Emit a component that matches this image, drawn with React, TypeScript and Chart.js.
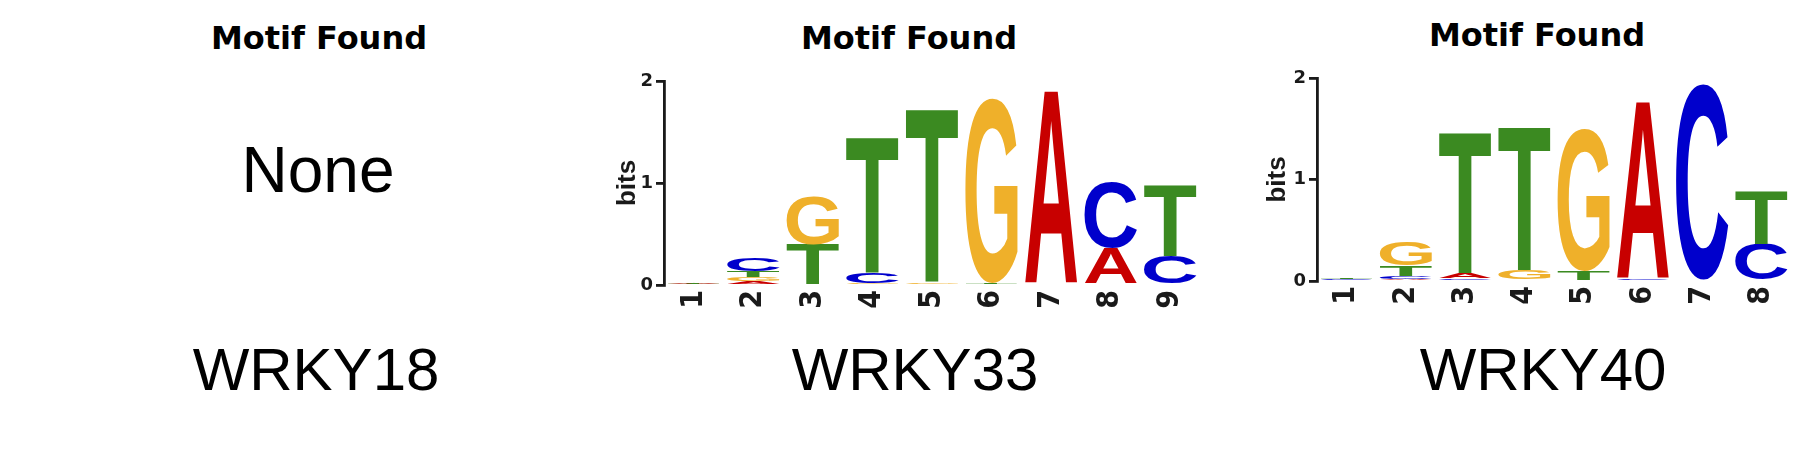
import React, { useEffect, useRef } from "react";
import { Chart, registerables, ChartConfiguration, Plugin } from "chart.js";

Chart.register(...registerables);

const INK = "#1a1a1a";
const FONT = '"Liberation Sans", Arial, Helvetica, sans-serif';
const NARROW_FONT = '"Liberation Sans Narrow", "DejaVu Sans Condensed", sans-serif';
const TICK_FONT = '"DejaVu Sans", Verdana, sans-serif';
const TITLE_FONT = '"DejaVu Sans", Verdana, sans-serif';
Chart.defaults.font.family = FONT;

// panel captions
const panelTitle = "Motif Found";
const geneNames = ["WRKY18", "WRKY33", "WRKY40"];
const noMotifText = "None";
const bitTicks = [0, 1, 2];

// WRKY33 logo, information (bits) per nucleotide and position
const positions33 = ["1", "2", "3", "4", "5", "6", "7", "8", "9"];
const wrky33A = [0.01, 0.04, 0.0, 0.01, 0.0, 0.0, 1.9, 0.36, 0.0];
const wrky33C = [0.0, 0.13, 0.0, 0.1, 0.0, 0.0, 0.0, 0.64, 0.28];
const wrky33G = [0.006, 0.04, 0.48, 0.01, 0.03, 1.81, 0.0, 0.0, 0.0];
const wrky33T = [0.006, 0.06, 0.4, 1.33, 1.7, 0.02, 0.0, 0.0, 0.7];

// WRKY40 logo
const positions40 = ["1", "2", "3", "4", "5", "6", "7", "8"];
const wrky40A = [0.01, 0.02, 0.05, 0.0, 0.0, 1.74, 0.0, 0.0];
const wrky40C = [0.01, 0.03, 0.03, 0.0, 0.0, 0.02, 1.94, 0.36];
const wrky40G = [0.0, 0.23, 0.0, 0.11, 1.4, 0.0, 0.0, 0.0];
const wrky40T = [0.015, 0.1, 1.38, 1.41, 0.1, 0.0, 0.0, 0.52];

const LETTER_COLORS: Record<string, string> = {
  A: "#c80000",
  C: "#0000cc",
  G: "#efb02a",
  T: "#3b8a21",
};

// one stacked dataset per rank, smallest letter at the bottom of each column
function buildStacks(a: number[], c: number[], g: number[], t: number[]) {
  const cols = a.map((_, i) =>
    [
      { letter: "A", value: a[i] },
      { letter: "C", value: c[i] },
      { letter: "G", value: g[i] },
      { letter: "T", value: t[i] },
    ].sort((p, q) => p.value - q.value)
  );
  return [0, 1, 2, 3].map((rank) => ({
    label: "rank" + rank,
    data: cols.map((col) => col[rank].value),
    letters: cols.map((col) => col[rank].letter),
    backgroundColor: "rgba(0,0,0,0)",
    borderWidth: 0,
    barPercentage: 0.88,
    categoryPercentage: 1,
  }));
}

// paints each bar as a stretched nucleotide glyph
const letterPlugin: Plugin<"bar"> = {
  id: "logoLetters",
  afterDatasetsDraw(chart) {
    const ctx = chart.ctx;
    chart.data.datasets.forEach((ds: any, di) => {
      const meta = chart.getDatasetMeta(di);
      meta.data.forEach((el: any, i) => {
        const { x, y, base, width } = el.getProps(["x", "y", "base", "width"], true);
        const h = base - y;
        if (!(h > 0.15)) return;
        const letter = ds.letters[i];
        ctx.save();
        ctx.font = "bold 200px " + FONT;
        ctx.textAlign = "left";
        ctx.textBaseline = "alphabetic";
        const m = ctx.measureText(letter);
        const gw = m.actualBoundingBoxLeft + m.actualBoundingBoxRight;
        const gh = m.actualBoundingBoxAscent + m.actualBoundingBoxDescent;
        ctx.translate(x - width / 2, y);
        ctx.scale(width / gw, h / gh);
        ctx.fillStyle = LETTER_COLORS[letter];
        ctx.fillText(letter, m.actualBoundingBoxLeft, m.actualBoundingBoxAscent);
        ctx.restore();
      });
    });
  },
};

interface LogoProps {
  labels: string[];
  a: number[];
  c: number[];
  g: number[];
  t: number[];
  left: number;
  top: number;
  width: number;
  height: number;
  yAxisWidth: number;
  xAxisHeight: number;
  padTop: number;
  padRight: number;
}

const SequenceLogo: React.FC<LogoProps> = (p) => {
  const canvasRef = useRef<HTMLCanvasElement>(null);

  useEffect(() => {
    if (!canvasRef.current) return;
    const config = {
      type: "bar",
      data: {
        labels: p.labels,
        datasets: buildStacks(p.a, p.c, p.g, p.t),
      },
      options: {
        responsive: false,
        animation: false,
        events: [],
        layout: { padding: { top: p.padTop, right: p.padRight, left: 0, bottom: 0 } },
        plugins: {
          legend: { display: false },
          tooltip: { enabled: false },
          title: { display: false },
        },
        scales: {
          x: {
            stacked: true,
            grid: { display: false, drawTicks: false },
            border: { display: false },
            ticks: {
              minRotation: 90,
              maxRotation: 90,
              autoSkip: false,
              padding: 5,
              color: INK,
              font: { family: NARROW_FONT, size: 30, weight: "bold" },
            },
            afterFit: (s: any) => {
              s.height = p.xAxisHeight;
            },
          },
          y: {
            stacked: true,
            min: 0,
            max: 2,
            afterBuildTicks: (s: any) => {
              s.ticks = bitTicks.map((v) => ({ value: v }));
            },
            grid: {
              drawOnChartArea: false,
              drawTicks: true,
              tickLength: 8,
              color: INK,
              lineWidth: 2.8,
            },
            border: { display: true, color: INK, width: 2.8 },
            ticks: {
              padding: 3,
              color: INK,
              font: { family: TICK_FONT, size: 18, weight: "bold" },
            },
            title: {
              display: true,
              text: "bits",
              color: INK,
              font: { size: 26, weight: "bold" },
              padding: { top: 52, bottom: 0 },
            },
            afterFit: (s: any) => {
              s.width = p.yAxisWidth;
            },
          },
        },
      },
      plugins: [letterPlugin],
    } as unknown as ChartConfiguration<"bar">;

    const chart = new Chart(canvasRef.current, config);
    return () => {
      chart.destroy();
    };
  }, [p]);

  return (
    <canvas
      ref={canvasRef}
      width={p.width}
      height={p.height}
      style={{ position: "absolute", left: p.left, top: p.top, width: p.width, height: p.height }}
    />
  );
};

const Caption: React.FC<{ text: string; center: number; baseline: number; size: number; bold?: boolean; family: string }> = ({
  text,
  center,
  baseline,
  size,
  bold,
  family,
}) => (
  <div
    style={{
      position: "absolute",
      left: center - 300,
      width: 600,
      top: baseline - size * 0.846,
      textAlign: "center",
      fontFamily: family,
      fontWeight: bold ? "bold" : "normal",
      fontSize: size,
      lineHeight: size + "px",
      color: "#000",
      whiteSpace: "nowrap",
    }}
  >
    {text}
  </div>
);

const logo33 = {
  labels: positions33,
  a: wrky33A,
  c: wrky33C,
  g: wrky33G,
  t: wrky33T,
  left: 560,
  top: 50,
  width: 660,
  height: 270,
  yAxisWidth: 104,
  xAxisHeight: 35,
  padTop: 31,
  padRight: 20,
};

const logo40 = {
  labels: positions40,
  a: wrky40A,
  c: wrky40C,
  g: wrky40G,
  t: wrky40T,
  left: 1210,
  top: 50,
  width: 603,
  height: 270,
  yAxisWidth: 107,
  xAxisHeight: 39,
  padTop: 28,
  padRight: 22,
};

export default function App() {
  return (
    <div
      style={{
        position: "absolute",
        left: 0,
        top: 0,
        width: 1813,
        height: 452,
        background: "#fff",
        overflow: "hidden",
      }}
    >
      <Caption text={panelTitle} center={319} baseline={49} size={32} bold family={TITLE_FONT} />
      <Caption text={panelTitle} center={909} baseline={49} size={32} bold family={TITLE_FONT} />
      <Caption text={panelTitle} center={1537} baseline={46} size={32} bold family={TITLE_FONT} />

      <Caption text={noMotifText} center={318} baseline={192} size={64} family={FONT} />

      <SequenceLogo {...logo33} />
      <SequenceLogo {...logo40} />

      <Caption text={geneNames[0]} center={316} baseline={391} size={60} family={FONT} />
      <Caption text={geneNames[1]} center={915} baseline={391} size={60} family={FONT} />
      <Caption text={geneNames[2]} center={1543} baseline={391} size={60} family={FONT} />
    </div>
  );
}
